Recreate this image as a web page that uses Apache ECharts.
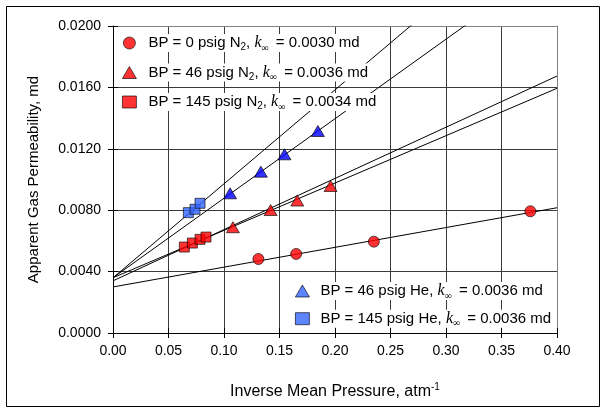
<!DOCTYPE html>
<html>
<head>
<meta charset="utf-8">
<script src="https://cdn.jsdelivr.net/npm/echarts@6/dist/echarts.min.js"></script>
<style>
  html, body { margin: 0; padding: 0; background: #fff; }
  #chart { width: 602px; height: 409px; }
</style>
</head>
<body>
<div id="chart"></div>
<script>
// Inverse mean pressure (1/atm) and apparent gas permeability (md) per test
const bp0N2X    = [0.131, 0.165, 0.235, 0.376];
const bp0N2Y    = [0.00482, 0.00515, 0.00595, 0.00793];
const bp46N2X   = [0.108, 0.142, 0.166, 0.196];
const bp46N2Y   = [0.00689, 0.00801, 0.00863, 0.00958];
const bp145N2X  = [0.0643, 0.0715, 0.0784, 0.0838];
const bp145N2Y  = [0.00560, 0.00586, 0.00610, 0.00625];
const bp46HeX   = [0.1055, 0.1332, 0.1545, 0.1846];
const bp46HeY   = [0.00910, 0.01051, 0.01164, 0.01316];
const bp145HeX  = [0.0679, 0.0739, 0.0784];
const bp145HeY  = [0.00784, 0.00806, 0.00845];

// Klinkenberg fits: intercept (k-infinity, md) and slope (md·atm)
const backPressure = [0, 46, 145, 46, 145];
const gasName      = ['N2', 'N2', 'N2', 'He', 'He'];
const kInfinity    = [0.0030, 0.0036, 0.0034, 0.0036, 0.0036];
const fitSlope     = [0.0129, 0.03085, 0.03335, 0.0518, 0.0612];

// Axis ticks
const xTicks = { min: 0, max: 0.40, interval: 0.05 };
const yTicks = { min: 0, max: 0.0200, interval: 0.0040 };

const xs = [bp0N2X, bp46N2X, bp145N2X, bp46HeX, bp145HeX];
const ys = [bp0N2Y, bp46N2Y, bp145N2Y, bp46HeY, bp145HeY];
const symbols = ['circle', 'triangle', 'rect', 'triangle', 'rect'];
const sizes = [[11, 11], [13, 11], [10, 10], [13, 11], [10, 10]];
const colors = ['#ff0000', '#ff0000', '#ff0000', '#0000ff', '#3366ff'];
const legendColors = ['#ff0000', '#ff0000', '#ff0000', '#3366ff', '#3366ff'];

const names = kInfinity.map((k, i) =>
  'BP = ' + backPressure[i] + ' psig ' + gasName[i] + ', k∞ = ' + k.toFixed(4) + ' md');

function legendText(name) {
  const i = names.indexOf(name);
  const gas = gasName[i] === 'N2' ? '{t|N}{s|2}' : '{t|He}';
  return '{t|BP = ' + backPressure[i] + ' psig }' + gas + '{t|, }{k|k}{i|∞}{t| = ' +
    kInfinity[i].toFixed(4) + ' md}';
}

const rich = {
  t: { fontFamily: 'Liberation Sans', fontSize: 15, color: '#000', lineHeight: 18 },
  s: { fontFamily: 'Liberation Sans', fontSize: 10, color: '#000', lineHeight: 9, padding: [9, 0, 0, 0] },
  k: { fontFamily: 'Liberation Serif', fontStyle: 'italic', fontSize: 16, color: '#000', lineHeight: 18 },
  i: { fontFamily: 'Liberation Serif', fontSize: 10, color: '#000', lineHeight: 9, padding: [10, 3, 0, 0] }
};

const series = [];
// fitted lines, drawn first so the markers sit on top
kInfinity.forEach((k, i) => {
  series.push({
    type: 'line',
    xAxisIndex: 0, yAxisIndex: 0,
    data: [[xTicks.min, k], [xTicks.max, k + fitSlope[i] * xTicks.max]],
    showSymbol: false, symbol: 'none', clip: true, silent: true,
    lineStyle: { color: '#000', width: 1 },
    z: 2
  });
});
xs.forEach((xArr, i) => {
  series.push({
    name: names[i],
    type: 'scatter',
    xAxisIndex: 0, yAxisIndex: 0,
    data: xArr.map((x, j) => [x, ys[i][j]]),
    symbol: symbols[i],
    symbolSize: sizes[i],
    itemStyle: { color: colors[i], borderColor: '#000', borderWidth: 0.8 },
    z: 5
  });
});

const gridLine = { show: true, lineStyle: { color: '#3a3a3a', width: 1 } };
const labelFont = { fontFamily: 'Liberation Sans', fontSize: 14, color: '#000' };

function legendBlock(idx, left, top, gap, pad) {
  return {
    orient: 'vertical', left: left, top: top, itemGap: gap, padding: 0,
    itemWidth: 14, itemHeight: 12, selectedMode: false,
    data: idx.map(i => ({ name: names[i], itemStyle: { color: legendColors[i], borderColor: '#000', borderWidth: 0.8 } })),
    formatter: legendText,
    textStyle: { rich: rich, padding: [0, 0, 0, pad], backgroundColor: '#fff' }
  };
}

const option = {
  backgroundColor: '#fff',
  animation: false,
  grid: { left: 113, top: 26, right: 45, bottom: 76, containLabel: false },
  xAxis: [
    {
      type: 'value', position: 'bottom', min: xTicks.min, max: xTicks.max, interval: xTicks.interval,
      axisLine: { show: true, onZero: false, lineStyle: { color: '#000', width: 1 } },
      axisTick: { show: true, length: 5, lineStyle: { color: '#000' } },
      axisLabel: Object.assign({ margin: 11, formatter: v => v.toFixed(2) }, labelFont),
      splitLine: gridLine,
      name: '{n|Inverse Mean Pressure, atm}{p|-1}',
      nameLocation: 'middle', nameGap: 50,
      nameTextStyle: { rich: {
        n: { fontFamily: 'Liberation Sans', fontSize: 16, color: '#000', lineHeight: 18 },
        p: { fontFamily: 'Liberation Sans', fontSize: 10, color: '#000', lineHeight: 9, padding: [0, 0, 9, 0] }
      } }
    },
    {
      type: 'value', position: 'bottom', min: xTicks.min, max: xTicks.max, interval: xTicks.interval,
      axisLine: { show: false, onZero: false },
      axisTick: { show: true, inside: true, length: 5, lineStyle: { color: '#000' } },
      axisLabel: { show: false }, splitLine: { show: false }
    },
    {
      type: 'value', position: 'top', min: xTicks.min, max: xTicks.max, interval: xTicks.interval,
      axisLine: { show: true, onZero: false, lineStyle: { color: '#808080', width: 1 } },
      axisTick: { show: false }, axisLabel: { show: false }, splitLine: { show: false }
    }
  ],
  yAxis: [
    {
      type: 'value', position: 'left', min: yTicks.min, max: yTicks.max, interval: yTicks.interval,
      axisLine: { show: true, onZero: false, lineStyle: { color: '#000', width: 1 } },
      axisTick: { show: true, length: 5, lineStyle: { color: '#000' } },
      axisLabel: Object.assign({ margin: 12, formatter: v => v.toFixed(4) }, labelFont),
      splitLine: gridLine,
      name: 'Apparent Gas Permeability, md',
      nameLocation: 'middle', nameGap: 72, nameRotate: 90,
      nameTextStyle: { fontFamily: 'Liberation Sans', fontSize: 15, color: '#000' }
    },
    {
      type: 'value', position: 'left', min: yTicks.min, max: yTicks.max, interval: yTicks.interval,
      axisLine: { show: false, onZero: false },
      axisTick: { show: true, inside: true, length: 5, lineStyle: { color: '#000' } },
      axisLabel: { show: false }, splitLine: { show: false }
    },
    {
      type: 'value', position: 'right', min: yTicks.min, max: yTicks.max, interval: yTicks.interval,
      axisLine: { show: true, onZero: false, lineStyle: { color: '#808080', width: 1 } },
      axisTick: { show: false }, axisLabel: { show: false }, splitLine: { show: false }
    }
  ],
  legend: [
    legendBlock([0, 1, 2], 122, 33, 9.5, 7),
    legendBlock([3, 4], 295, 281, 7.7, 6)
  ],
  graphic: [{
    type: 'rect', left: 4, top: 4, silent: true,
    shape: { width: 593, height: 400 },
    style: { fill: null, stroke: '#000', lineWidth: 1 }
  }],
  series: series
};

const chart = echarts.init(document.getElementById('chart'), null, { renderer: 'canvas' });
chart.setOption(option);
</script>
</body>
</html>
